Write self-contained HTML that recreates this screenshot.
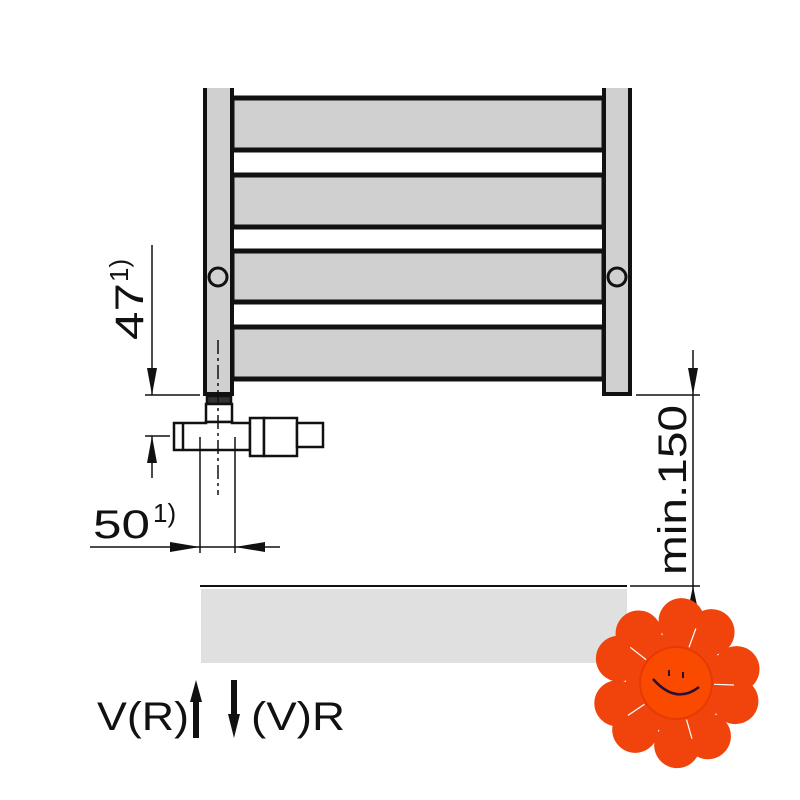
<!DOCTYPE html>
<html><head><meta charset="utf-8"><style>
html,body{margin:0;padding:0;background:#fff}
svg{display:block}
text{font-family:"Liberation Sans",sans-serif;fill:#111}
</style></head><body>
<svg width="800" height="800" viewBox="0 0 800 800" xmlns="http://www.w3.org/2000/svg">
<g fill="#d0d0d0" stroke="#111" stroke-width="5">
<rect x="232" y="98" width="372" height="52"/>
<rect x="232" y="175" width="372" height="52"/>
<rect x="232" y="251" width="372" height="51"/>
<rect x="232" y="327" width="372" height="52"/>
</g>
<g fill="#d0d0d0" stroke="#111" stroke-width="4">
<path d="M205 88 V394 H232 V88"/>
<path d="M604 88 V394 H630 V88"/>
</g>
<g fill="#d0d0d0" stroke="#111" stroke-width="3">
<circle cx="218" cy="277" r="9"/>
<circle cx="617" cy="277" r="9"/>
</g>
<g fill="#fff" stroke="#111" stroke-width="2.5">
<rect x="207" y="396" width="24" height="8" fill="#333"/>
<rect x="206" y="404" width="26" height="18"/>
<path d="M174 423 H206 V422 H232 V423 H250 V450 H174 Z"/>
<line x1="183" y1="423" x2="183" y2="450"/>
<rect x="250" y="418" width="14" height="38"/>
<rect x="264" y="418" width="33" height="38"/>
<rect x="297" y="423" width="26" height="24"/>
</g>
<line x1="218" y1="340" x2="218" y2="495" stroke="#111" stroke-width="1.5" stroke-dasharray="14,4,3,4"/>
<g stroke="#111" stroke-width="1.5" fill="none">
<line x1="152" y1="245" x2="152" y2="395"/>
<line x1="145" y1="395" x2="200" y2="395"/>
<line x1="145" y1="436" x2="170" y2="436"/>
<line x1="152" y1="436" x2="152" y2="478"/>
<line x1="200" y1="437" x2="200" y2="553"/>
<line x1="235" y1="437" x2="235" y2="553"/>
<line x1="90" y1="547" x2="280" y2="547"/>
<line x1="693" y1="350" x2="693" y2="600"/>
<line x1="636" y1="395" x2="700" y2="395"/>
<line x1="630" y1="586" x2="700" y2="586"/>
<line x1="200" y1="586" x2="627" y2="586" stroke-width="2"/>
</g>
<g fill="#111">
<polygon points="147,368 157,368 152,395"/>
<polygon points="147,463 157,463 152,436"/>
<polygon points="170,542 170,552 200,547"/>
<polygon points="265,542 265,552 235,547"/>
<polygon points="688,368 698,368 693,395"/>
<polygon points="688,610 698,610 693,586"/>
</g>
<rect x="201" y="589" width="426" height="74" fill="#e0e0e0"/>
<text transform="translate(143,340) rotate(-90)" font-size="40" textLength="57" lengthAdjust="spacingAndGlyphs">47</text>
<text transform="translate(128,282) rotate(-90)" font-size="26">1)</text>
<text x="93" y="538" font-size="40" textLength="57" lengthAdjust="spacingAndGlyphs">50</text>
<text x="153" y="522" font-size="26">1)</text>
<text transform="translate(686,575) rotate(-90)" font-size="40" textLength="170" lengthAdjust="spacingAndGlyphs">min.150</text>
<text x="97" y="730" font-size="40" textLength="92" lengthAdjust="spacingAndGlyphs">V(R)</text>
<text x="251" y="730" font-size="40" textLength="94" lengthAdjust="spacingAndGlyphs">(V)R</text>
<rect x="193" y="698" width="6" height="40" fill="#111"/>
<polygon points="190,702 202,702 196,680" fill="#111"/>
<rect x="231" y="680" width="6" height="36" fill="#111"/>
<polygon points="228,714 240,714 234,738" fill="#111"/>
<g transform="translate(676,683) rotate(20)" fill="#f0440c">
<circle r="50"/>
<g id="p">
<circle cx="-16" cy="-60" r="23"/><circle cx="16" cy="-60" r="23"/>
<path d="M-37 -52 L0 -18 L37 -52 Z"/>
</g>
<use href="#p" transform="rotate(72)"/>
<use href="#p" transform="rotate(144)"/>
<use href="#p" transform="rotate(216)"/>
<use href="#p" transform="rotate(288)"/>
<g stroke="#fff" stroke-width="1.2">
<line x1="0" y1="38" x2="0" y2="58" transform="rotate(36)"/>
<line x1="0" y1="38" x2="0" y2="58" transform="rotate(108)"/>
<line x1="0" y1="38" x2="0" y2="58" transform="rotate(180)"/>
<line x1="0" y1="38" x2="0" y2="58" transform="rotate(252)"/>
<line x1="0" y1="38" x2="0" y2="58" transform="rotate(324)"/>
</g>
</g>
<g transform="translate(676,683)">
<circle r="37" fill="#e63a06"/>
<circle r="35" fill="#fa4a00"/>
<path d="M-23 -4 Q0 22 23 4" stroke="#2a1030" stroke-width="2.5" fill="none"/>
<line x1="-7" y1="-13" x2="-7" y2="-7" stroke="#2a1030" stroke-width="2"/>
<line x1="7" y1="-11" x2="7" y2="-5" stroke="#2a1030" stroke-width="2"/>
</g>
</svg>
</body></html>
